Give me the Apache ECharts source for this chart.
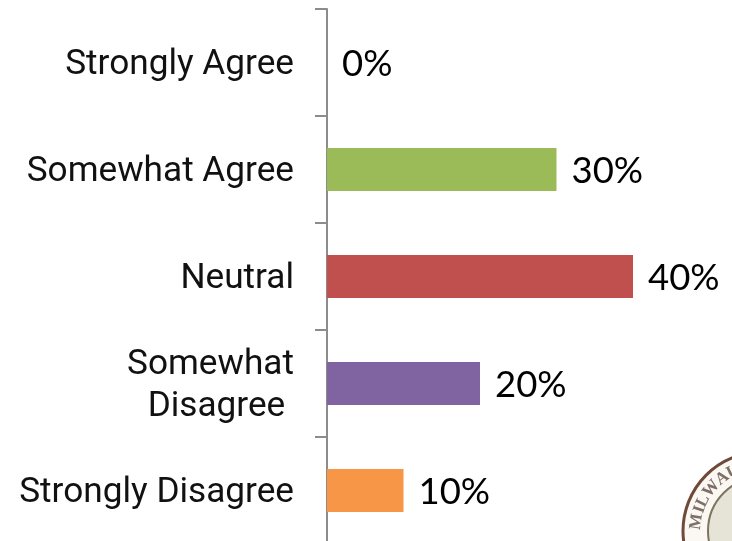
<!DOCTYPE html>
<html><head><meta charset="utf-8">
<style>html,body{margin:0;padding:0;background:#fff}#c{width:732px;height:541px}</style>
<script src="https://cdn.jsdelivr.net/npm/echarts@6/dist/echarts.min.js"></script>
</head><body><div id="c"></div>
<script>
const categories = ["Strongly Agree","Somewhat Agree","Neutral","Somewhat\nDisagree ","Strongly Disagree"];
const values = [0,30,40,20,10];
const colors = ["#9bbb59","#9bbb59","#c0504d","#8064a2","#f79646"];
const sealLetters = ["M","I","L","W","A","U"];
const sealAngles = [-82,-71,-63,-50,-37,-26];
const cx=762, cy=531;
const letters = sealLetters.map((ch,i)=>{
  const t=sealAngles[i]*Math.PI/180, R=66;
  return {type:'text',x:cx+R*Math.sin(t),y:cy-R*Math.cos(t),rotation:-t,silent:true,
    style:{text:ch,font:'bold 17px "Liberation Serif"',fill:'#5e4c44',align:'center',verticalAlign:'middle',opacity:.8}};
});
const chart = echarts.init(document.getElementById('c'),null,{renderer:'canvas'});
chart.setOption({
  animation:false,
  grid:{left:327,top:9,width:382.5,height:535,outerBoundsMode:'none'},
  xAxis:{type:'value',min:0,max:50,show:false},
  yAxis:{type:'category',inverse:true,data:categories,
    axisLine:{show:true,lineStyle:{color:'#8c8c8c',width:2}},
    axisTick:{show:true,length:12,lineStyle:{color:'#8c8c8c',width:2}},
    axisLabel:{margin:33,align:'right',
      formatter:v=>'{s| }\n'+v.split('\n').map(l=>`{a|${l}}`).join('\n'),
      rich:{
        s:{fontSize:1,lineHeight:6},
        a:{fontFamily:'Roboto',fontSize:35.2,color:'#111',lineHeight:42,align:'right'}
      }}},
  series:[{type:'bar',barWidth:43,silent:true,
    data:values.map((v,i)=>({value:v,itemStyle:{color:colors[i]}})),
    label:{show:true,position:'right',distance:15,offset:[0,2],formatter:'{c}%',fontFamily:'Lato',fontSize:36.5,color:'#000'}}],
  graphic:[
    {type:'circle',silent:true,shape:{cx,cy,r:79},style:{fill:'#fbf8f3',stroke:'#6f4a3a',lineWidth:3}},
    {type:'circle',silent:true,shape:{cx,cy,r:54},style:{fill:'#e6e4d6',stroke:'#7d7560',lineWidth:2}},
    ...letters
  ]
});
</script></body></html>
